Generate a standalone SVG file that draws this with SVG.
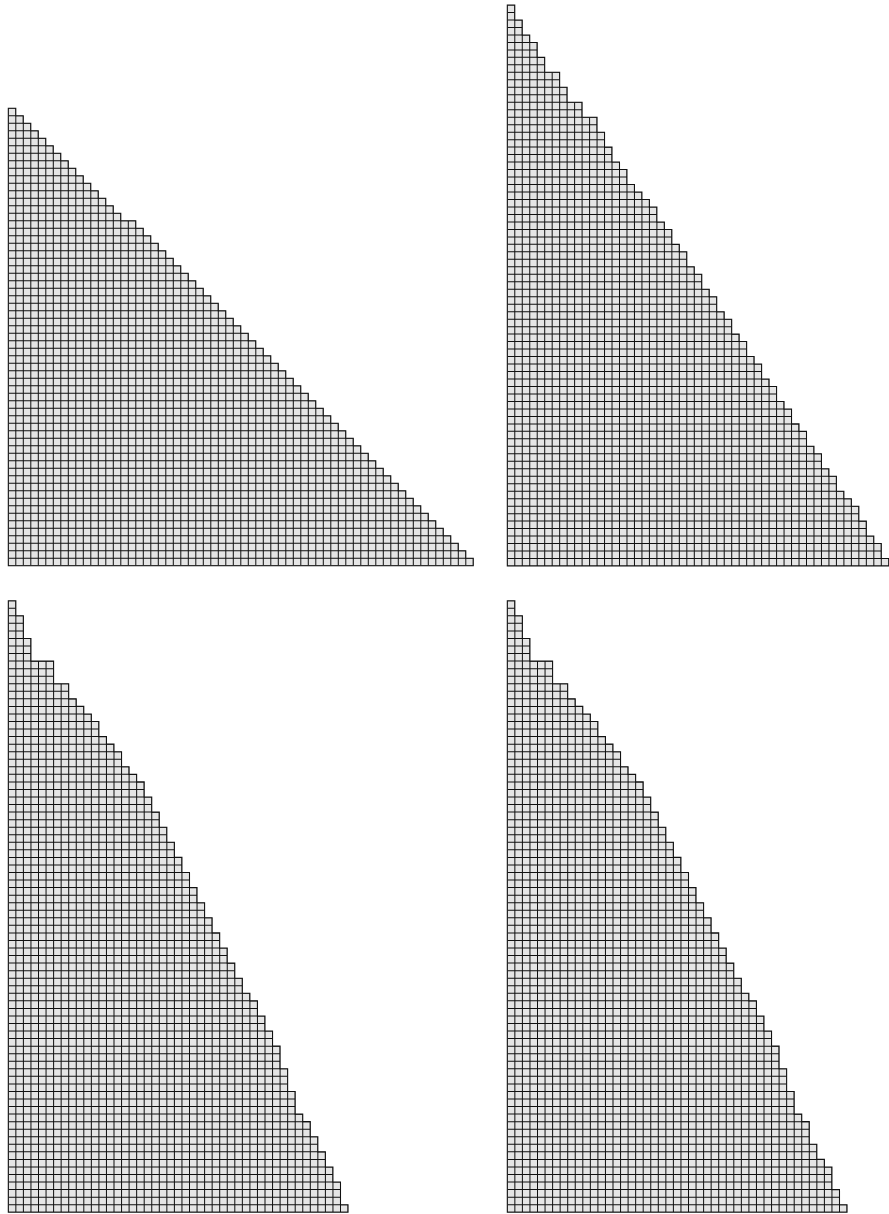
<svg xmlns="http://www.w3.org/2000/svg" xmlns:xlink="http://www.w3.org/1999/xlink" width="889" height="1214" viewBox="0 0 889 1214">
<style>
.fill{fill:#e5e5e5;stroke:none}
.grid{fill:none;stroke:#111;stroke-width:0.135}
.outline{fill:none;stroke:#111;stroke-width:0.14}
</style>
<defs>
<path id="grid" d="M0 0h63m-63 1h63m-63 1h63m-63 1h63m-63 1h63m-63 1h63m-63 1h63m-63 1h63m-63 1h63m-63 1h63m-63 1h63m-63 1h63m-63 1h63m-63 1h63m-63 1h63m-63 1h63m-63 1h63m-63 1h63m-63 1h63m-63 1h63m-63 1h63m-63 1h63m-63 1h63m-63 1h63m-63 1h63m-63 1h63m-63 1h63m-63 1h63m-63 1h63m-63 1h63m-63 1h63m-63 1h63m-63 1h63m-63 1h63m-63 1h63m-63 1h63m-63 1h63m-63 1h63m-63 1h63m-63 1h63m-63 1h63m-63 1h63m-63 1h63m-63 1h63m-63 1h63m-63 1h63m-63 1h63m-63 1h63m-63 1h63m-63 1h63m-63 1h63m-63 1h63m-63 1h63m-63 1h63m-63 1h63m-63 1h63m-63 1h63m-63 1h63m-63 1h63m-63 1h63m-63 1h63m-63 1h63m-63 1h63m-63 1h63m-63 1h63m-63 1h63m-63 1h63m-63 1h63m-63 1h63m-63 1h63m-63 1h63m-63 1h63m-63 1h63m-63 1h63m-63 1h63m-63 1h63m-63 1h63m-63 1h63m-63 1h63m-63 1h63m-63 1h63m-63 1h63m-63 1h63m-63 1h63m-63 1h63m-63 1h63m-63 1h63m-63 1h63M0 0v82m1-82v82m1-82v82m1-82v82m1-82v82m1-82v82m1-82v82m1-82v82m1-82v82m1-82v82m1-82v82m1-82v82m1-82v82m1-82v82m1-82v82m1-82v82m1-82v82m1-82v82m1-82v82m1-82v82m1-82v82m1-82v82m1-82v82m1-82v82m1-82v82m1-82v82m1-82v82m1-82v82m1-82v82m1-82v82m1-82v82m1-82v82m1-82v82m1-82v82m1-82v82m1-82v82m1-82v82m1-82v82m1-82v82m1-82v82m1-82v82m1-82v82m1-82v82m1-82v82m1-82v82m1-82v82m1-82v82m1-82v82m1-82v82m1-82v82m1-82v82m1-82v82m1-82v82m1-82v82m1-82v82m1-82v82m1-82v82m1-82v82m1-82v82m1-82v82m1-82v82m1-82v82m1-82v82m1-82v82"/>
<path id="s1" d="M0 0 h1v1h1v1h1v1h1v1h1v1 h1v1h1v1h1v1h1v1h1v1 h1v1h1v1h1v1h1v1h1v1 h2v1 h1v1h1v1h1v1h1v1h1v1 h1v1h1v1h1v1h1v1h1v1 h1v1h1v1h1v1h1v1h1v1 h1v1h1v1h1v1h1v1h1v1 h1v1h1v1h1v1h1v1h1v1 h1v1h1v1h1v1h1v1h1v1 h1v1h1v1h1v1h1v1h1v1 h1v1h1v1h1v1h1v1h1v1 h1v1h1v1h1v1h1v1h1v1 H0Z"/>
<path id="s2" d="M0 0h1v2h1v2h1v1h1v2h1v2h2v2h1v2h2v2h2v2h1v2h1v2h1v1h1v2h1v1h1v1h1v1h1v2h1v1h1v2h1v1h1v2h1v1h1v2h1v1h1v2h1v1h1v2h1v1h1v2h1v1h1v2h1v1h1v2h1v1h1v2h1v1h1v2h1v1h1v2h1v1h1v2h1v1h1v1h1v2h1v2h1v1h1v2h1v1H0Z"/>
<path id="s3" d="M0 0 h1v2h1v3h1v3h3v3h2v2h1v1 h1v1h1v1h1v2 h1v1h1v1h1v2 h1v1h1v1h1v2 h1v2h1v2h1v2h1v2h1v2h1v2h1v2 h1v2h1v2h1v2h1v2h1v2h1v2 h1v1 h1v2h1v2h1v2 h1v3h1v3h1v3 h1v1h1v2h1v2h1v2h1v2h1v3h1v1 H0Z"/>
<path id="s4" d="M0 0 h1v2h1v3h1v3h3v3h2v2h1v1 h1v1h1v1h1v2 h1v1h1v1h1v2 h1v1h1v1h1v2 h1v2h1v2h1v2h1v2h1v2h1v2h1v2 h1v2h1v2h1v2h1v2h1v2h1v2 h1v1 h1v2h1v2h1v2 h1v3h1v3h1v3 h1v1h1v3h1v2h1v1h1v3h1v2h1v1 H0Z"/>
<clipPath id="c1"><use xlink:href="#s1"/></clipPath>
<clipPath id="c2"><use xlink:href="#s2"/></clipPath>
<clipPath id="c3"><use xlink:href="#s3"/></clipPath>
<clipPath id="c4"><use xlink:href="#s4"/></clipPath>
</defs>
<rect width="889" height="1214" fill="#fff"/>
<g id="diagram-top-left" transform="translate(8.3 108.3) scale(7.5)">
<use xlink:href="#s1" class="fill"/>
<use xlink:href="#grid" class="grid" clip-path="url(#c1)"/>
<use xlink:href="#s1" class="outline"/>
</g>
<g id="diagram-top-right" transform="translate(507.3 5) scale(7.48)">
<use xlink:href="#s2" class="fill"/>
<use xlink:href="#grid" class="grid" clip-path="url(#c2)"/>
<use xlink:href="#s2" class="outline"/>
</g>
<g id="diagram-bottom-left" transform="translate(8.3 600.7) scale(7.55)">
<use xlink:href="#s3" class="fill"/>
<use xlink:href="#grid" class="grid" clip-path="url(#c3)"/>
<use xlink:href="#s3" class="outline"/>
</g>
<g id="diagram-bottom-right" transform="translate(507.3 600.7) scale(7.55)">
<use xlink:href="#s4" class="fill"/>
<use xlink:href="#grid" class="grid" clip-path="url(#c4)"/>
<use xlink:href="#s4" class="outline"/>
</g>
</svg>
